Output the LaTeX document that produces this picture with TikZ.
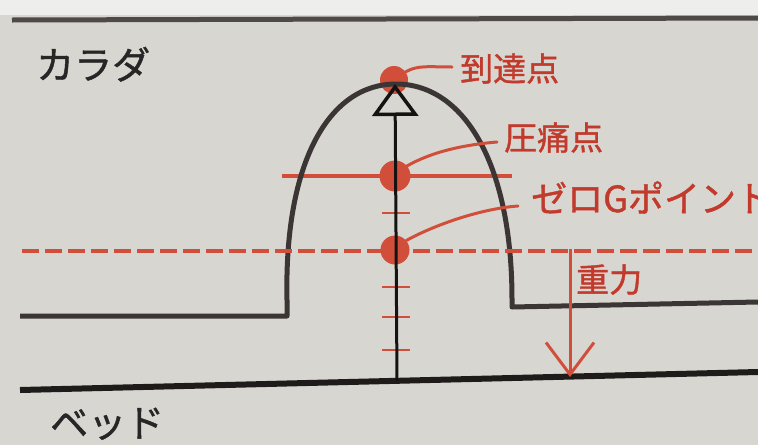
\documentclass[tikz,border=0pt]{standalone}
\usepackage{fontspec}
\newfontfamily\jp{Noto Sans CJK JP}
\newfontfamily\jpb[FakeBold=1.2]{Noto Sans CJK JP}
\usetikzlibrary{arrows.meta}
\definecolor{paper}{HTML}{D8D6D1}
\definecolor{paperhi}{HTML}{EEEEEC}
\definecolor{rd}{HTML}{D14F3A}
\definecolor{rdtext}{HTML}{C23A2C}
\definecolor{body}{HTML}{3B3635}
\definecolor{bedc}{HTML}{1E1B1A}
\definecolor{axisc}{HTML}{151312}
\tikzset{
  dot/.style={circle, fill=rd, inner sep=0pt, minimum size=#1},
  leader/.style={draw=rd, line width=3pt, line cap=round},
  redline/.style={draw=rd, line width=3.2pt},
  tick/.style={draw=rd, line width=2.8pt},
  lbl/.style={font=\jpb\fontsize{33}{36}\selectfont, text=rdtext, inner sep=0pt, anchor=base west},
  blbl/.style={font=\jpb\fontsize{38}{40}\selectfont, text=black!85, inner sep=0pt, anchor=base west},
  outline/.style={draw=body, line width=5pt, line join=round},
}
\begin{document}
\begin{tikzpicture}[x=1pt,y=-1pt]
\useasboundingbox (0,0) rectangle (758,445);
\fill[paper] (0,0) rectangle (758,445);
\fill[paperhi] (0,0) rectangle (758,15);

% top border
\draw[draw=body!90!white, line width=5pt] (12,20) -- (758,18);

% red solid horizontal line
\draw[redline] (282,176) -- (512,176);

% dots
\node[dot=28pt] (ptop) at (394,80) {};
\node[dot=31pt] (pmid) at (395,176) {};
\node[dot=29pt] (pzero) at (395,250) {};

% ticks
\foreach \yy in {213,287,317,350} \draw[tick] (382,\yy) -- (410,\yy);

% body outline
\draw[outline] (20,316) -- (287,316) -- (287,300)
  .. controls (284,160) and (330,84) .. (396,84)
  .. controls (462,84) and (512,160) .. (512,300)
  -- (512,307) -- (758,302);

% dashed zero-G line
\draw[draw=rd, line width=4.5pt, dash pattern=on 17pt off 6pt] (22,251) -- (758,251);

% bed line
\draw[draw=bedc, line width=6pt] (20,390) -- (758,372);

% central axis with open triangle
\coordinate (axbot) at (397,381);
\coordinate (apex) at (395,84);
\draw[draw=axisc, line width=3pt, -{Triangle[open, length=32pt, width=46pt, line width=3.5pt]}] (axbot) -- (apex);

% labels
\node[blbl] (karada) at (36,79) {カラダ};
\node[blbl] (bed) at (50,437) {ベッド};
\node[lbl] (ltop) at (460,81) {到達点};
\node[lbl] (lmid) at (504,150) {圧痛点};
\node[lbl, font=\jpb\fontsize{36}{38}\selectfont] (lzero) at (531,212) {ゼロGポイント};
\node[lbl] (lgrav) at (576,292) {重力};

% leaders
\coordinate (ltopend) at (452,67);
\coordinate (lmidend) at (497,142);
\coordinate (lzeroend) at (518,206);
\draw[leader] (ptop.35) .. controls +(12,-7) and +(-22,0) .. (ltopend);
\draw[leader] (pmid.40) .. controls +(25,-14) and +(-35,3) .. (lmidend);
\draw[leader] (pzero.40) .. controls +(25,-14) and +(-40,3) .. (lzeroend);

% gravity arrow
\coordinate (gtop) at (570,249);
\coordinate (gbot) at (570,377);
\draw[draw=rd, line width=3pt, -{Straight Barb[length=32pt, width=48pt, line width=3pt]}] (gtop) -- (gbot);
\end{tikzpicture}
\end{document}
